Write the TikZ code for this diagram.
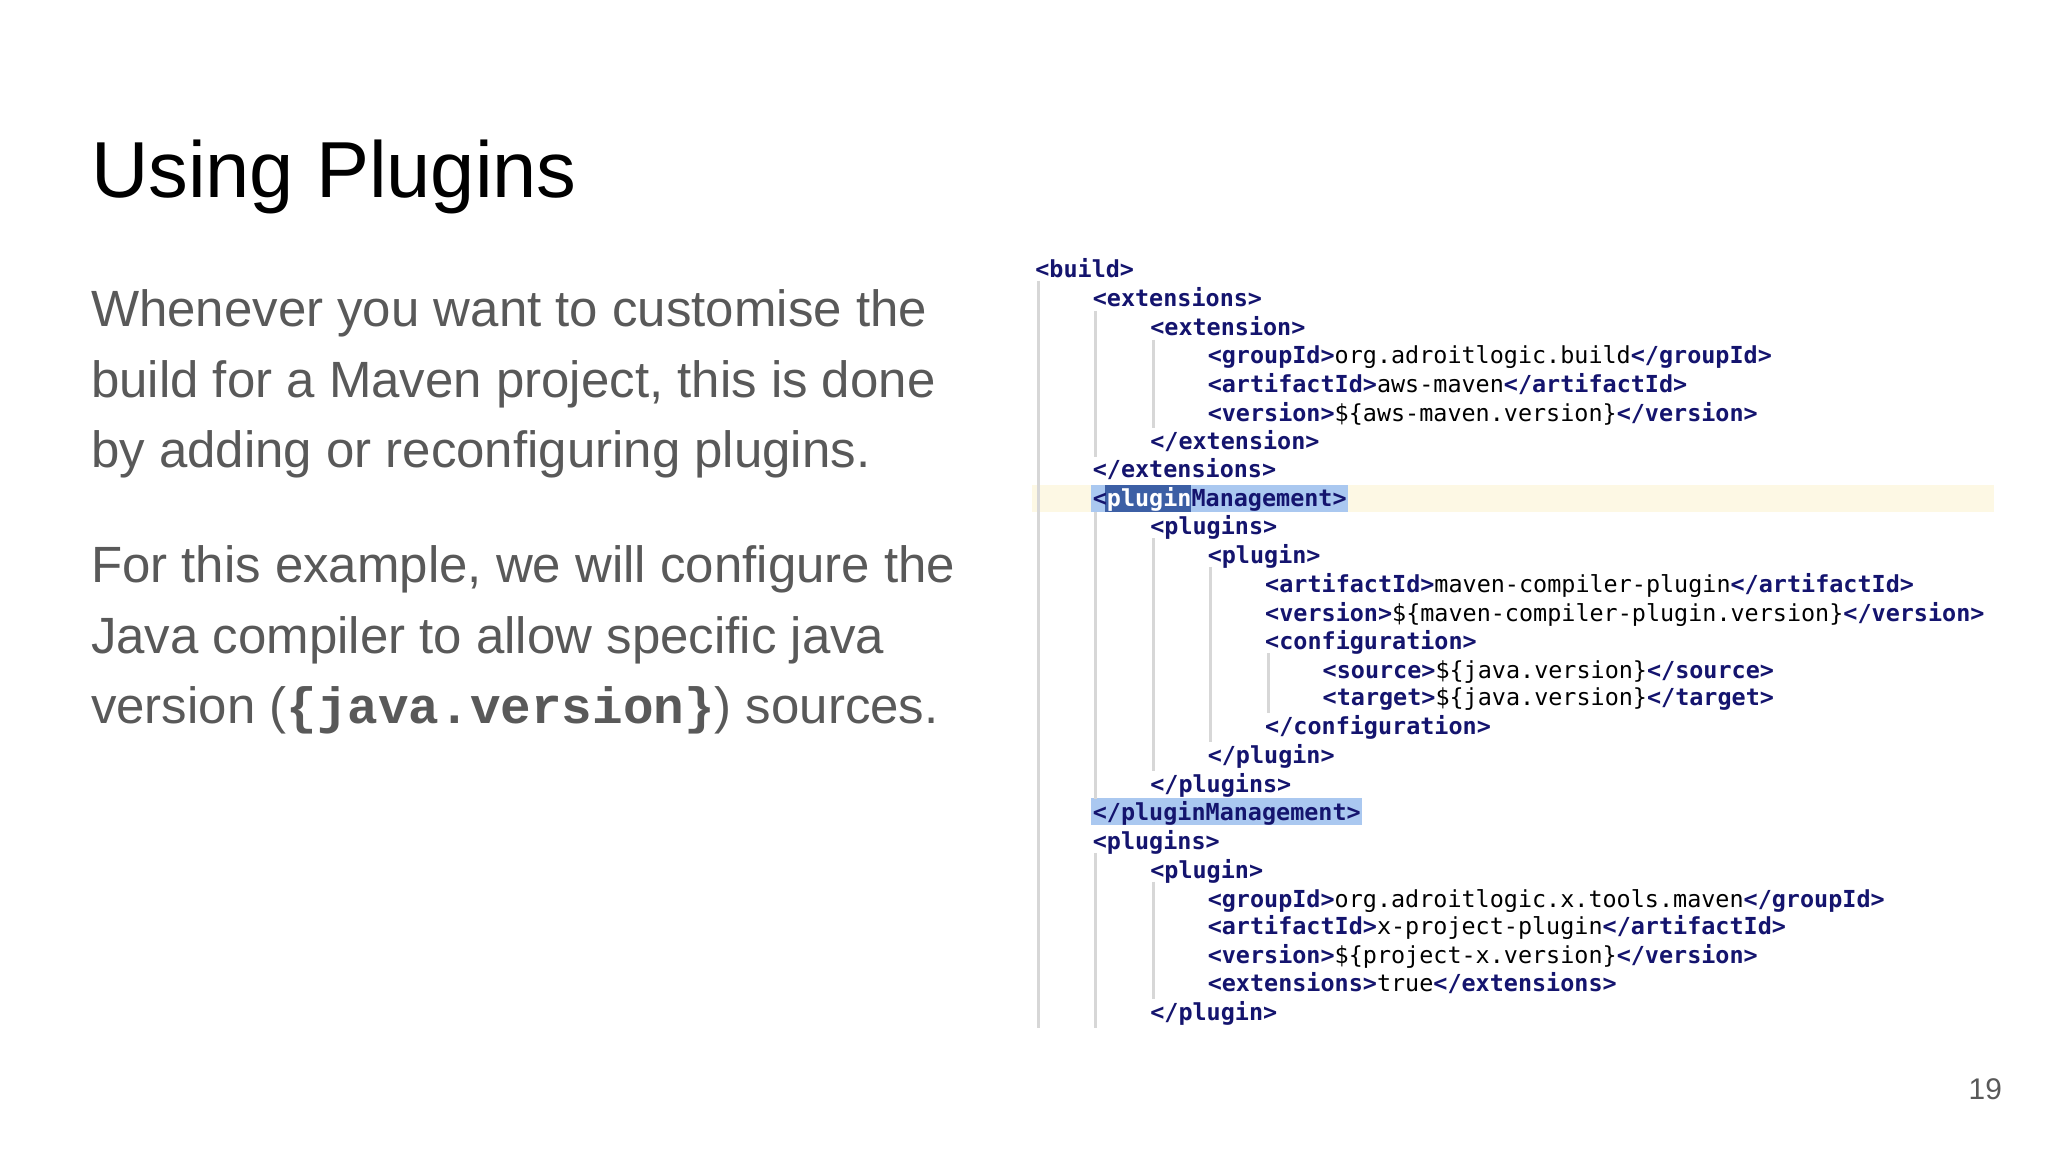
\documentclass[tikz,border=0pt]{standalone}
\usepackage{fontspec}
\setmainfont{Liberation Sans}
\newfontfamily\codef{DejaVu Sans Mono}
\newfontfamily\cour{Liberation Mono}
\definecolor{tagc}{RGB}{20,20,110}
\definecolor{bodyc}{RGB}{89,89,89}
\definecolor{guide}{RGB}{215,215,215}
\definecolor{hlyel}{RGB}{253,248,228}
\definecolor{hlblue}{RGB}{170,200,240}
\definecolor{hldark}{RGB}{60,95,165}
\newcommand\tg[1]{{\color{tagc}\bfseries #1}}
\tikzset{code/.style={anchor=base west,inner sep=0pt,font=\codef\fontsize{5.1}{6}\selectfont},
body/.style={anchor=base west,inner sep=0pt,font=\fontsize{11.1}{13}\selectfont,text=bodyc},
gl/.style={guide,line width=0.6pt}}
\begin{document}
\begin{tikzpicture}[x=0.01cm,y=-0.01cm]
\useasboundingbox[fill=white] (0,0) rectangle (1568,882);
\node[anchor=base west,inner sep=0pt,font=\fontsize{17.3}{20}\selectfont] (title) at (69,151) {Using Plugins};
\node[body] (p1) at (69,250) {Whenever you want to customise the};
\node[body] (p2) at (69,304) {build for a Maven project, this is done};
\node[body] (p3) at (69,358) {by adding or reconfiguring plugins.};
\node[body] (p4) at (69,446) {For this example, we will configure the};
\node[body] (p5) at (69,500) {Java compiler to allow specific java};
\node[body] (p6) at (69,554) {version (\textbf{\cour\{java.version\}}) sources.};
\node[anchor=base,inner sep=0pt,font=\fontsize{6.5}{8}\selectfont,text=bodyc] (pg) at (1520,842) {19};
% highlights
\fill[hlyel] (790,371) rectangle (1527,392);
\fill[hlblue] (835,371) rectangle (1032,392);
\fill[hldark] (846,371) rectangle (912,392);
\fill[hlblue] (835,611) rectangle (1043,632);
% guides
\draw[gl] (795,215) -- (795,787);
\draw[gl] (839,238) -- (839,350);
\draw[gl] (883,260) -- (883,328);
\draw[gl] (839,392) -- (839,612);
\draw[gl] (883,412) -- (883,590);
\draw[gl] (927,434) -- (927,568);
\draw[gl] (971,500) -- (971,546);
\draw[gl] (839,653) -- (839,787);
\draw[gl] (883,675) -- (883,765);
% code
\def\L#1#2#3#4{\node[code] (#1) at (792+44*#2,#3+6.5) {#4};}
\L{c1}{0}{206}{\tg{<build>}}
\L{c2}{1}{228}{\tg{<extensions>}}
\L{c3}{2}{250}{\tg{<extension>}}
\L{c4}{3}{272}{\tg{<groupId>}org.adroitlogic.build\tg{</groupId>}}
\L{c5}{3}{294}{\tg{<artifactId>}aws-maven\tg{</artifactId>}}
\L{c6}{3}{316}{\tg{<version>}\$\{aws-maven.version\}\tg{</version>}}
\L{c7}{2}{338}{\tg{</extension>}}
\L{c8}{1}{359}{\tg{</extensions>}}
\L{c9}{1}{381}{\tg{<}{\color{white}\bfseries plugin}\tg{Management>}}
\L{c10}{2}{403}{\tg{<plugins>}}
\L{c11}{3}{425}{\tg{<plugin>}}
\L{c12}{4}{447}{\tg{<artifactId>}maven-compiler-plugin\tg{</artifactId>}}
\L{c13}{4}{469}{\tg{<version>}\$\{maven-compiler-plugin.version\}\tg{</version>}}
\L{c14}{4}{491}{\tg{<configuration>}}
\L{c15}{5}{513}{\tg{<source>}\$\{java.version\}\tg{</source>}}
\L{c16}{5}{534}{\tg{<target>}\$\{java.version\}\tg{</target>}}
\L{c17}{4}{556}{\tg{</configuration>}}
\L{c18}{3}{578}{\tg{</plugin>}}
\L{c19}{2}{600}{\tg{</plugins>}}
\L{c20}{1}{622}{\tg{</pluginManagement>}}
\L{c21}{1}{644}{\tg{<plugins>}}
\L{c22}{2}{666}{\tg{<plugin>}}
\L{c23}{3}{688}{\tg{<groupId>}org.adroitlogic.x.tools.maven\tg{</groupId>}}
\L{c24}{3}{709}{\tg{<artifactId>}x-project-plugin\tg{</artifactId>}}
\L{c25}{3}{731}{\tg{<version>}\$\{project-x.version\}\tg{</version>}}
\L{c26}{3}{753}{\tg{<extensions>}true\tg{</extensions>}}
\L{c27}{2}{775}{\tg{</plugin>}}
\end{tikzpicture}
\end{document}
